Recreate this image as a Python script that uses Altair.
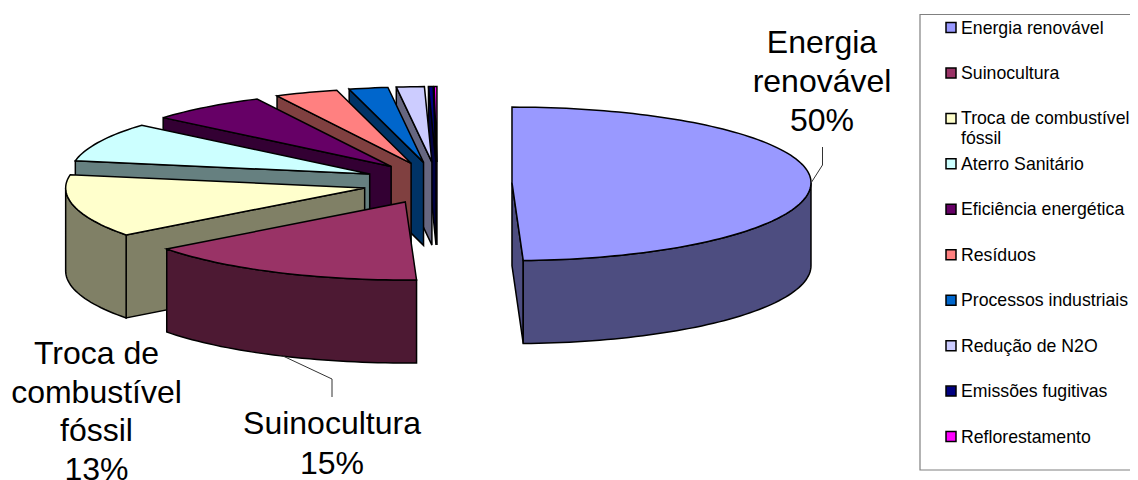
import math
import altair as alt
import pandas as pd

categories = ["Energia renovável", "Suinocultura", "Troca de combustível fóssil", "Aterro Sanitário",
              "Eficiência energética", "Resíduos", "Processos industriais", "Redução de N2O",
              "Emissões fugitivas", "Reflorestamento"]
values = [49.4, 15.3, 13.1, 8.4, 6.4, 3.4, 2.1, 1.5, 0.25, 0.15]
top_colors = ["#9999FF", "#993366", "#FFFFCC", "#CCFFFF", "#660066",
              "#FF8080", "#0066CC", "#CCCCFF", "#000080", "#FF00FF"]
wall_colors = ["#4D4D80", "#4D1933", "#808066", "#668080", "#330033",
               "#804040", "#003366", "#666680", "#000040", "#800080"]
legend_lines = [["Energia renovável"], ["Suinocultura"], ["Troca de combustível", "fóssil"],
                ["Aterro Sanitário"], ["Eficiência energética"], ["Resíduos"],
                ["Processos industriais"], ["Redução de N2O"], ["Emissões fugitivas"], ["Reflorestamento"]]
big_labels = [(822, 42.5, 39, ["Energia", "renovável", "50%"]),
              (96.5, 354, 38.5, ["Troca de", "combustível", "fóssil", "13%"]),
              (332, 424, 39.5, ["Suinocultura", "15%"])]

# pie geometry (in picture pixels)
CX, CY, RX, RY_FRONT, RY_BACK, DEPTH = 437.3, 183.0, 299.0, 78.0, 75.5, 83.0
EX, EY = 74.7, 21.0

rows = []
poly = 0


def add_poly(points, color):
    global poly
    for s, (x, y) in enumerate(points):
        rows.append({"poly": poly, "seq": s, "x": x, "y": y, "fill": color})
    poly += 1


def rim(ax, ay, t0, t1, dy=0.0):
    n = max(2, int(abs(t1 - t0) / 1.5) + 2)
    out = []
    for k in range(n):
        t = math.radians(t0 + (t1 - t0) * k / (n - 1))
        c = math.cos(t)
        ry = RY_BACK if c > 0 else RY_FRONT
        out.append((ax + RX * math.sin(t), ay - ry * c + dy))
    return out


total = sum(values)
starts, acc = [], 0.0
for v in values:
    starts.append(acc)
    acc += v * 360.0 / total

for i in reversed(range(len(values))):
    t0 = starts[i]
    t1 = t0 + values[i] * 360.0 / total
    tm = math.radians((t0 + t1) / 2)
    ax = CX + EX * math.sin(tm)
    ay = CY - EY * math.cos(tm)
    top_c, wall_c = top_colors[i], wall_colors[i]
    for t, front in ((t0, -math.sin(math.radians(t0))), (t1, math.sin(math.radians(t1)))):
        if front > 1e-6:
            p = rim(ax, ay, t, t, 0)[0]
            add_poly([(ax, ay), p, (p[0], p[1] + DEPTH), (ax, ay + DEPTH)], wall_c)
    a, b = max(t0, 90.0), min(t1, 270.0)
    if b > a:
        add_poly(rim(ax, ay, a, b) + rim(ax, ay, b, a, DEPTH), wall_c)
    add_poly([(ax, ay)] + rim(ax, ay, t0, t1), top_c)

W, H = 1122, 472
xs = alt.Scale(domain=[8, 8 + W], range=[0, W], nice=False, zero=False)
ys = alt.Scale(domain=[8, 8 + H], range=[0, H], nice=False, zero=False)
X = lambda f="x": alt.X(f + ":Q", scale=xs, axis=None)
Y = lambda f="y": alt.Y(f + ":Q", scale=ys, axis=None)

pie = alt.Chart(pd.DataFrame(rows)).mark_line(
    interpolate="linear-closed", stroke="black", strokeWidth=1.5, strokeJoin="miter"
).encode(x=X(), y=Y(), detail="poly:N", order="seq:Q", fill=alt.Fill("fill:N", scale=None))

leaders = pd.DataFrame([
    {"id": 0, "s": 0, "x": 811, "y": 183}, {"id": 0, "s": 1, "x": 822.5, "y": 165}, {"id": 0, "s": 2, "x": 822.5, "y": 147},
    {"id": 1, "s": 0, "x": 283, "y": 356}, {"id": 1, "s": 1, "x": 332, "y": 379}, {"id": 1, "s": 2, "x": 332, "y": 397},
])
leader = alt.Chart(leaders).mark_line(color="#333333", strokeWidth=1).encode(
    x=X(), y=Y(), detail="id:N", order="s:Q")

big_rows = []
for cx, y0, step, lines in big_labels:
    for k, line in enumerate(lines):
        big_rows.append({"x": cx, "y": y0 + k * step, "t": line})
big = alt.Chart(pd.DataFrame(big_rows)).mark_text(
    font="Liberation Sans", fontSize=32, color="black", align="center", baseline="middle"
).encode(x=X(), y=Y(), text="t:N")

box = alt.Chart(pd.DataFrame([{"x": 920, "x2": 1150, "y": 14.5, "y2": 470}])).mark_rect(
    fill="white", stroke="#808080", strokeWidth=1.2
).encode(x=X(), x2="x2:Q", y=Y(), y2="y2:Q")

leg_rows, leg_text = [], []
for i, lines in enumerate(legend_lines):
    y = 27.5 + i * 45.45
    leg_rows.append({"x": 951, "y": y, "fill": top_colors[i]})
    for k, line in enumerate(lines):
        leg_text.append({"x": 961, "y": y + 1 + k * 20, "t": line})
swatch = alt.Chart(pd.DataFrame(leg_rows)).mark_point(
    shape="square", size=100, filled=True, stroke="black", strokeWidth=1.5, opacity=1
).encode(x=X(), y=Y(), fill=alt.Fill("fill:N", scale=None))
ltext = alt.Chart(pd.DataFrame(leg_text)).mark_text(
    font="Liberation Sans", fontSize=17.7, color="black", align="left", baseline="middle"
).encode(x=X(), y=Y(), text="t:N")

chart = alt.layer(pie, leader, big, box, swatch, ltext).properties(
    width=W, height=H, padding=0, autosize=alt.AutoSizeParams(type="none")
).configure_view(stroke=None)

chart.save("out.html", embed_options={"renderer": "svg", "actions": False})
